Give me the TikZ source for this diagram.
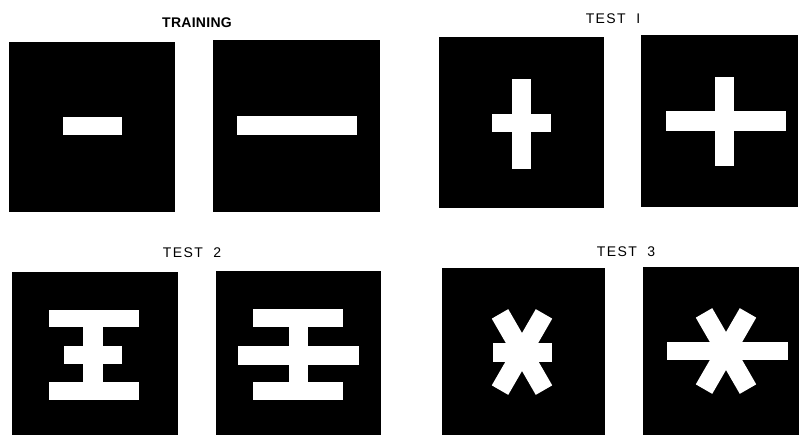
\documentclass[tikz,border=0pt]{standalone}
\usepackage{fontspec}
\setmainfont{Liberation Sans}
\usetikzlibrary{calc}
\begin{document}
\begin{tikzpicture}[x=1pt,y=-1pt,
  panel/.style={fill=black},
  glyph/.style={fill=white},
  arm/.style={draw=white, line width=19pt},
  title/.style={font=\fontsize{14}{16}\selectfont\addfontfeature{LetterSpace=10}, inner sep=0pt},
  boldtitle/.style={font=\fontsize{14}{16}\selectfont\bfseries\addfontfeature{LetterSpace=2}, inner sep=0pt}]
\useasboundingbox (0,0) rectangle (799,435);
% titles
\node[boldtitle] (t0) at (197,23) {TRAINING};
\node[title] (t1) at (613,19) {TEST\ \ I};
\node[title] (t2) at (192,253) {TEST\ \ 2};
\node[title] (t3) at (626,252) {TEST\ \ 3};
% panels
\fill[panel] (9,42) rectangle (175,212);
\fill[panel] (213,40) rectangle (380,212);
\fill[panel] (439,37) rectangle (604,208);
\fill[panel] (641,35) rectangle (798,207);
\fill[panel] (12,272) rectangle (178,435);
\fill[panel] (216,271) rectangle (381,435);
\fill[panel] (442,268) rectangle (605,435);
\fill[panel] (643,267) rectangle (799,435);
% training bars
\fill[glyph] (63,117) rectangle (122,135);
\fill[glyph] (237,116) rectangle (357,135);
% test 1 crosses
\fill[glyph] (512,79) rectangle (531,169);
\fill[glyph] (492,114) rectangle (551,132);
\fill[glyph] (715,77) rectangle (734,166);
\fill[glyph] (666,111) rectangle (786,131);
% test 2
\fill[glyph] (49,310) rectangle (139,327);
\fill[glyph] (83,326) rectangle (103,383);
\fill[glyph] (64,346) rectangle (122,364);
\fill[glyph] (49,382) rectangle (139,400);
\fill[glyph] (253,309) rectangle (343,327);
\fill[glyph] (289,326) rectangle (308,383);
\fill[glyph] (238,346) rectangle (359,365);
\fill[glyph] (253,382) rectangle (343,400);
% test 3 asterisks
\coordinate (a1) at (522,352);
\fill[glyph] (493,343) rectangle (552,362);
\draw[arm] ($(a1)+(-60:44)$) -- ($(a1)+(120:44)$);
\draw[arm] ($(a1)+(-120:44)$) -- ($(a1)+(60:44)$);
\coordinate (a2) at (726,351);
\fill[glyph] (667,342) rectangle (788,360);
\draw[arm] ($(a2)+(-60:44)$) -- ($(a2)+(120:44)$);
\draw[arm] ($(a2)+(-120:44)$) -- ($(a2)+(60:44)$);
\end{tikzpicture}
\end{document}
